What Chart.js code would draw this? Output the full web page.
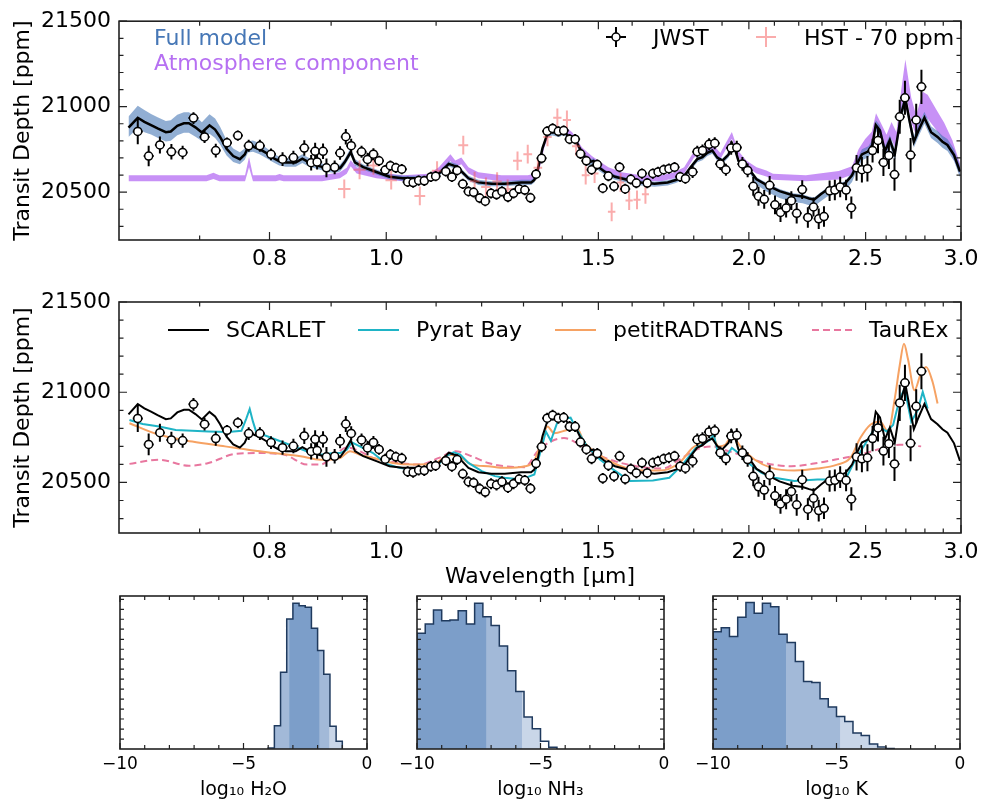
<!DOCTYPE html>
<html>
<head>
<meta charset="utf-8">
<script src="https://cdn.jsdelivr.net/npm/chart.js@4.4.1/dist/chart.umd.min.js"></script>
<style>
  body { margin: 0; background: #fff; width: 986px; height: 805px; position: relative; overflow: hidden; }
  canvas { position: absolute; }
</style>
</head>
<body>
<canvas id="topPanel" width="986" height="282" style="left:0;top:0"></canvas>
<canvas id="midPanel" width="986" height="320" style="left:0;top:280px"></canvas>
<canvas id="histH2O" width="327" height="220" style="left:80px;top:585px"></canvas>
<canvas id="histNH3" width="327" height="220" style="left:377px;top:585px"></canvas>
<canvas id="histK" width="327" height="220" style="left:673px;top:585px"></canvas>
<script>
Chart.defaults.font.family = "'DejaVu Sans', sans-serif";
Chart.defaults.font.size = 22;
Chart.defaults.color = '#000';
Chart.defaults.animation = false;

// ---------- spectrum data (wavelength in micron, depth in ppm) ----------
const jwstWave = [0.6219,0.6350,0.6488,0.6632,0.6776,0.6918,0.7066,0.7219,0.7376,0.7530,
  0.7688,0.7854,0.8023,0.8202,0.8374,0.8550,0.8663,0.8729,0.8762,0.8862,
  0.8920,0.9061,0.9155,0.9256,0.9352,0.9539,0.9648,0.9758,0.9863,0.9981,
  1.0079,1.0185,1.0301,1.0418,1.0527,1.0639,1.0754,1.0891,1.0990,1.1205,
  1.1337,1.1451,1.1575,1.1702,1.1817,1.1956,1.2083,1.2218,1.2346,1.2475,
  1.2619,1.2755,1.2893,1.3032,1.3173,1.3315,1.3456,1.3602,1.3744,1.3895,
  1.4038,1.4197,1.4348,1.4495,1.4660,1.4808,1.4968,1.5127,1.5290,1.5456,
  1.5620,1.5789,1.5960,1.6129,1.6304,1.6468,1.6646,1.6813,1.6995,1.7166,
  1.7351,1.7539,1.7715,1.7961,1.8121,1.8303,1.8536,1.8737,1.8937,1.9141,
  1.9334,1.9543,1.9754,1.9953,2.0168,2.0371,2.0595,2.0810,2.1023,2.1246,
  2.1476,2.1692,2.1914,2.2147,2.2387,2.2629,2.2857,2.3087,2.3337,2.3572,
  2.3813,2.4084,2.4327,2.4571,2.4823,2.5087,2.5334,2.5599,2.5866,2.6136,
  2.6419,2.6684,2.6952,2.7244,2.7538,2.7815];
const jwstDepth = [20855,20711,20776,20736,20732,20933,20823,20743,20789,20831,
  20771,20771,20721,20693,20702,20758,20672,20739,20677,20739,
  20642,20645,20729,20824,20772,20736,20691,20722,20683,20629,
  20655,20642,20634,20560,20556,20568,20566,20589,20593,20621,
  20589,20627,20548,20504,20499,20465,20447,20493,20486,20504,
  20471,20493,20519,20512,20467,20605,20698,20856,20873,20856,
  20860,20810,20810,20724,20683,20631,20661,20523,20594,20534,
  20646,20519,20575,20553,20609,20553,20609,20618,20631,20637,
  20646,20590,20579,20618,20737,20743,20780,20786,20665,20631,
  20758,20761,20665,20627,20534,20476,20458,20540,20426,20381,
  20407,20450,20376,20515,20352,20413,20344,20357,20508,20512,
  20530,20512,20409,20642,20631,20637,20743,20802,20674,20715,
  20603,20941,21052,20717,20922,21116];
const jwstErr = [75,60,50,45,40,35,35,40,30,30,
  35,35,35,40,40,45,45,50,45,45,
  55,40,40,45,40,35,40,35,30,30,
  30,30,30,30,30,30,30,30,30,30,
  30,30,30,30,30,30,30,30,30,30,
  30,30,30,30,30,30,30,30,30,30,
  30,30,30,30,30,30,30,30,30,30,
  30,30,30,30,30,30,30,30,30,30,
  30,30,30,35,35,35,35,35,35,35,
  40,40,40,40,55,55,55,55,55,55,
  55,55,60,55,60,55,60,60,60,60,
  60,60,65,75,75,75,70,75,80,80,
  95,100,100,100,95,100];

// HST points as plotted (already offset by -70 ppm)
const hstWave = [0.9229,0.9503,0.9758,1.0095,1.0663,1.1020,1.1586,1.1840,1.2099,1.2360,
  1.2612,1.2852,1.3106,1.3362,1.3610,1.3869,1.4125,1.4375,1.4641,1.4892,
  1.5386,1.5650,1.5909,1.6150,1.6412];
const hstDepth = [20519,20631,20656,20570,20478,20625,20775,20564,20530,20562,
  20519,20683,20722,20642,20823,20935,20922,20768,20599,20609,
  20385,20556,20451,20455,20487];
const hstErr = [55,55,55,55,55,55,55,55,55,55,55,55,55,55,55,55,55,55,55,55,55,55,55,55,55];
const hstHalfBin = 0.011;

// full model (SCARLET best fit) and spread of posterior samples
const modelWave = [0.6110,0.6219,0.6298,0.6379,0.6459,0.6562,0.6624,0.6707,0.6792,0.6857,
  0.6944,0.7030,0.7133,0.7210,0.7279,0.7370,0.7464,0.7559,0.7630,0.7678,
  0.7751,0.7849,0.7948,0.8049,0.8151,0.8253,0.8411,0.8518,0.8598,0.8734,
  0.8845,0.8957,0.9071,0.9157,0.9238,0.9343,0.9419,0.9570,0.9813,1.0062,
  1.0320,1.0582,1.0852,1.0990,1.1130,1.1269,1.1376,1.1449,1.1558,1.1702,
  1.1925,1.2230,1.2541,1.2942,1.3190,1.3272,1.3355,1.3481,1.3610,1.3739,
  1.3914,1.4046,1.4180,1.4360,1.4540,1.4725,1.4864,1.5005,1.5195,1.5485,
  1.5878,1.6281,1.6700,1.7124,1.7395,1.7673,1.7894,1.8121,1.8302,1.8475,
  1.8650,1.8827,1.9005,1.9239,1.9360,1.9481,1.9606,1.9792,2.0040,2.0295,
  2.0681,2.1206,2.1749,2.2165,2.2442,2.2655,2.2944,2.3236,2.3603,2.4053,
  2.4359,2.4590,2.4823,2.5134,2.5324,2.5488,2.5696,2.5939,2.6185,2.6433,
  2.6770,2.6973,2.7192,2.7414,2.7659,2.7974,2.8330,2.8685,2.8957,2.9232,
  2.9604,2.9941];
const modelDepth = [20877,20935,20911,20892,20873,20851,20855,20888,20903,20903,
  20879,20849,20891,20866,20823,20754,20711,20693,20720,20762,
  20767,20751,20730,20701,20681,20673,20673,20696,20680,20659,
  20648,20637,20634,20641,20676,20734,20674,20646,20618,20590,
  20581,20581,20581,20590,20627,20665,20655,20650,20618,20581,
  20557,20549,20549,20557,20557,20571,20627,20758,20842,20851,
  20842,20855,20823,20804,20730,20674,20683,20646,20618,20590,
  20571,20557,20549,20557,20571,20594,20646,20693,20705,20730,
  20743,20702,20683,20720,20786,20748,20683,20655,20627,20575,
  20543,20506,20482,20475,20463,20456,20487,20515,20530,20553,
  20599,20665,20721,20739,20776,20892,20860,20739,20804,20721,
  20963,21046,20916,20795,20860,20935,20851,20823,20795,20776,
  20717,20620];
const modelUp = [65,70,70,65,65,65,65,65,65,65,
  65,60,65,65,60,50,45,40,35,35,
  35,35,30,30,25,25,25,25,25,20,
  20,20,20,20,20,25,20,15,15,15,
  15,15,15,15,15,15,15,15,15,15,
  15,15,15,15,15,15,15,15,15,15,
  15,15,15,15,15,15,15,15,12,12,
  12,12,12,12,12,12,12,12,12,12,
  12,12,12,12,12,12,12,12,12,12,
  12,12,12,12,12,12,12,12,12,12,
  20,25,30,30,30,30,30,30,30,35,
  35,35,35,35,35,35,35,35,35,35,
  35,35];
const modelDn = [55,60,60,55,55,55,55,55,55,55,
  55,50,50,50,45,40,35,30,30,30,
  30,30,30,25,25,25,25,25,25,20,
  20,20,20,20,20,20,20,15,15,15,
  15,15,15,15,15,15,15,15,15,15,
  15,15,15,15,15,15,20,20,20,20,
  20,20,20,20,20,20,20,20,18,18,
  18,18,18,18,18,18,18,18,18,18,
  18,18,18,18,18,18,18,18,18,30,
  40,40,40,40,40,40,40,40,40,40,
  40,35,35,35,35,35,35,35,35,35,
  35,35,35,35,35,35,35,35,35,35,
  35,35];

// atmosphere-only component
const atmWave = [0.6110,0.7093,0.7187,0.7269,0.7635,0.7693,0.7751,0.8095,0.8156,0.8218,
  0.8845,0.9152,0.9273,0.9343,0.9450,0.9813,1.0320,1.0852,1.1058,1.1305,
  1.1412,1.1543,1.1702,1.1925,1.2463,1.3106,1.3272,1.3398,1.3525,1.3653,
  1.3739,1.3914,1.4046,1.4268,1.4540,1.4816,1.5005,1.5290,1.5680,1.6281,
  1.6910,1.7343,1.7673,1.8010,1.8362,1.8650,1.8937,1.9360,1.9606,1.9915,
  2.0295,2.0681,2.0944,2.2303,2.3751,2.4359,2.4665,2.4978,2.5296,2.5502,
  2.5777,2.6022,2.6269,2.6518,2.6770,2.6973,2.7279,2.7538,2.7884,2.8148,
  2.8599,2.9051,2.9510,2.9941];
const atmDepth = [20581,20581,20595,20581,20581,20676,20581,20581,20588,20581,
  20581,20599,20625,20669,20627,20599,20581,20590,20627,20702,
  20665,20683,20627,20599,20581,20581,20590,20646,20776,20860,
  20879,20851,20870,20832,20743,20693,20665,20627,20599,20581,
  20581,20599,20627,20721,20743,20767,20711,20832,20721,20665,
  20627,20609,20590,20581,20599,20627,20721,20776,20814,20916,
  20851,20786,20860,20795,21037,21186,20982,20888,21018,21000,
  20926,20851,20758,20637];
const atmHw = [18,18,18,18,18,30,18,18,18,18,
  18,18,18,18,18,18,18,18,18,20,
  20,20,18,18,18,18,18,18,18,18,
  18,18,18,18,18,18,18,18,18,18,
  18,18,18,18,18,18,18,20,18,18,
  18,18,18,18,25,25,30,35,40,45,
  45,50,50,55,70,90,70,60,70,70,
  60,55,45,30];

// other retrieval codes (bottom panel)
const pyratWave = [0.6121,0.6278,0.6479,0.6687,0.6901,0.7119,0.7394,0.7582,0.7654,0.7703,
  0.7751,0.7800,0.7974,0.8177,0.8385,0.8598,0.8817,0.9043,0.9157,0.9273,
  0.9361,0.9508,0.9752,1.0000,1.0254,1.0517,1.0784,1.0990,1.1199,1.1376,
  1.1520,1.1702,1.2003,1.2308,1.2541,1.2942,1.3272,1.3441,1.3569,1.3698,
  1.3869,1.4091,1.4224,1.4402,1.4678,1.5054,1.5436,1.5930,1.6646,1.7179,
  1.7619,1.8066,1.8526,1.8702,1.8879,1.9116,1.9360,1.9606,1.9979,2.0487,
  2.1008,2.1815,2.2801,2.3527,2.4130,2.4433,2.5049,2.5536,2.6022,2.6348,
  2.6684,2.6937,2.7279,2.7622,2.7884,2.8148];
const pyratDepth = [20846,20824,20810,20791,20786,20782,20779,20786,20855,20907,
  20837,20779,20755,20727,20700,20672,20654,20663,20663,20681,
  20722,20700,20663,20603,20581,20571,20571,20581,20645,20667,
  20654,20608,20563,20535,20526,20516,20544,20681,20782,20731,
  20834,20855,20859,20791,20700,20626,20571,20508,20511,20526,
  20599,20691,20731,20764,20645,20636,20691,20663,20608,20553,
  20526,20508,20516,20516,20535,20608,20727,20819,20782,20819,
  20965,21020,20837,20901,21002,20910];
const prtWave = [0.6121,0.6479,0.6901,0.7348,0.7678,0.8075,0.8489,0.8817,0.9157,0.9331,
  0.9508,0.9752,1.0127,1.0517,1.0990,1.1269,1.1483,1.1778,1.2151,1.2541,
  1.3032,1.3272,1.3481,1.3610,1.3783,1.4134,1.4402,1.4586,1.4957,1.5436,
  1.6030,1.6860,1.7507,1.7952,1.8302,1.8582,1.8879,1.9116,1.9360,1.9727,
  2.0230,2.0877,2.1815,2.2801,2.3678,2.4281,2.4744,2.5215,2.5696,2.6102,
  2.6433,2.6684,2.6901,2.7105,2.7451,2.7750,2.8064,2.8416,2.8685];
const prtDepth = [20828,20764,20727,20700,20681,20663,20645,20626,20636,20673,
  20654,20636,20608,20599,20608,20654,20645,20599,20590,20581,
  20590,20621,20746,20810,20773,20791,20801,20727,20663,20608,
  20571,20566,20608,20691,20727,20782,20700,20709,20755,20691,
  20626,20581,20566,20577,20599,20636,20746,20819,20837,20782,
  20965,21148,21268,21185,21011,21093,21140,21057,20938];
const taurexWave = [0.6121,0.6479,0.6857,0.7119,0.7488,0.7824,0.8229,0.8598,0.8817,0.9043,
  0.9273,0.9508,0.9752,1.0127,1.0649,1.1058,1.1412,1.1778,1.2151,1.2541,
  1.3032,1.3355,1.3698,1.4046,1.4402,1.4772,1.5339,1.6129,1.6963,1.7507,
  1.8066,1.8650,1.9239,1.9862,2.0615,2.1679,2.2801,2.3976,2.4744,2.5536,
  2.6684,2.7799];
const taurexDepth = [20603,20626,20593,20608,20658,20663,20654,20599,20599,20645,
  20694,20673,20636,20614,20599,20636,20673,20645,20608,20590,
  20585,20673,20727,20746,20718,20673,20626,20590,20577,20626,
  20681,20700,20673,20645,20608,20590,20608,20636,20654,20681,
  20709,20700];

const waveTicks = [0.8, 1.0, 1.5, 2.0, 2.5, 3.0];
const waveMinor = [0.7, 0.9, 1.1, 1.2, 1.3, 1.4, 1.6, 1.7, 1.8, 1.9, 2.1, 2.2, 2.3, 2.4, 2.6, 2.7, 2.8, 2.9];
const depthTicks = [20500, 21000, 21500];
const depthMinor = [20300, 20400, 20600, 20700, 20800, 20900, 21100, 21200, 21300, 21400];

// ---------- posterior histograms (heights as fraction of panel height) ----------
const h2oEdges = [-4,-3.75,-3.5,-3.25,-3,-2.75,-2.5,-2.25,-2,-1.75,-1.5,-1.25,-1];
const h2oHeights = [0.007,0.152,0.502,0.85,0.952,0.937,0.926,0.789,0.643,0.489,0.148,0.05];
const h2oBands = [[-3.15,-1.92],[-3.73,-1.52],[-4,-1]];
const nh3Edges = [-10,-9.667,-9.333,-9,-8.667,-8.333,-8,-7.667,-7.333,-7,-6.667,-6.333,-6,-5.667,-5.333,-5,-4.667,-4.333];
const nh3Heights = [0.757,0.817,0.909,0.839,0.843,0.904,0.817,0.952,0.865,0.807,0.674,0.511,0.376,0.209,0.133,0.05,0.011];
const nh3Bands = [[-10,-7.19],[-10,-5.75],[-10,-5.0]];
const kEdges = [-10,-9.667,-9.333,-9,-8.667,-8.333,-8,-7.667,-7.333,-7,-6.667,-6.333,-6,-5.667,-5.333,-5,-4.667,-4.333,-4,-3.667,-3.333,-3,-2.667];
const kHeights = [0.767,0.793,0.735,0.861,0.957,0.887,0.952,0.930,0.75,0.696,0.572,0.441,0.435,0.328,0.274,0.213,0.180,0.104,0.089,0.033,0.013,0.004];
const kBands = [[-10,-7.04],[-10,-4.85],[-10,-3.33]];
const histTicks = [-10, -5, 0];
const histMinor = [-9, -8, -7, -6, -4, -3, -2, -1];
const histYMinor = [0.065,0.13,0.196,0.261,0.326,0.391,0.457,0.522,0.587,0.652,0.717,0.783,0.848,0.913,0.978];

// ---------- helpers ----------
const xy = (xs, ys) => xs.map((x, i) => ({ x: x, y: ys[i] }));

function steps(edges, heights, lo, hi) {
  const pts = [];
  for (let i = 0; i < heights.length; i++) {
    const a = Math.max(edges[i], lo), b = Math.min(edges[i + 1], hi);
    if (b <= a) continue;
    if (!pts.length) pts.push({ x: a, y: 0 });
    pts.push({ x: a, y: heights[i] });
    pts.push({ x: b, y: heights[i] });
  }
  pts.push({ x: pts[pts.length - 1].x, y: 0 });
  return pts;
}

// inward ticks on all four sides plus the axes frame
function framePlugin(xMaj, xMin, yMaj, yMin, lMaj, lMin) {
  return {
    id: 'frame',
    afterDatasetsDraw(chart) {
      const { ctx, chartArea: a } = chart;
      const sx = chart.scales.x, sy = chart.scales.y;
      ctx.save();
      ctx.strokeStyle = '#222';
      ctx.lineWidth = 1.2;
      ctx.beginPath();
      const tx = (vals, len) => vals.forEach(v => {
        const p = sx.getPixelForValue(v);
        ctx.moveTo(p, a.bottom); ctx.lineTo(p, a.bottom - len);
        ctx.moveTo(p, a.top); ctx.lineTo(p, a.top + len);
      });
      const ty = (vals, len) => vals.forEach(v => {
        const p = sy.getPixelForValue(v);
        ctx.moveTo(a.left, p); ctx.lineTo(a.left + len, p);
        ctx.moveTo(a.right, p); ctx.lineTo(a.right - len, p);
      });
      tx(xMaj, lMaj); tx(xMin, lMin); ty(yMaj, lMaj); ty(yMin, lMin);
      ctx.stroke();
      ctx.lineWidth = 1.6;
      ctx.strokeRect(a.left, a.top, a.right - a.left, a.bottom - a.top);
      ctx.restore();
    }
  };
}

const errorBars = {
  id: 'errorBars',
  beforeDatasetDraw(chart, args) {
    const ds = chart.data.datasets[args.index];
    if (!ds.errY) return;
    const { ctx, chartArea: a } = chart;
    const sx = chart.scales.x, sy = chart.scales.y;
    ctx.save();
    ctx.beginPath();
    ctx.rect(a.left, a.top, a.right - a.left, a.bottom - a.top);
    ctx.clip();
    ctx.strokeStyle = ds.errColor;
    ctx.lineWidth = ds.errWidth;
    ctx.beginPath();
    ds.data.forEach((p, i) => {
      const px = sx.getPixelForValue(p.x), py = sy.getPixelForValue(p.y);
      ctx.moveTo(px, sy.getPixelForValue(p.y - ds.errY[i]));
      ctx.lineTo(px, sy.getPixelForValue(p.y + ds.errY[i]));
      if (ds.errX) {
        ctx.moveTo(sx.getPixelForValue(p.x - ds.errX), py);
        ctx.lineTo(sx.getPixelForValue(p.x + ds.errX), py);
      } else {
        ctx.moveTo(px - ds.capPx, py);
        ctx.lineTo(px + ds.capPx, py);
      }
    });
    ctx.stroke();
    ctx.restore();
  }
};

const JWST_COLOR = '#000';
const HST_COLOR = 'rgba(245,90,90,0.5)';
const BLUE = '#4677b6';
const PURPLE = '#b670f2';

function jwstSet() {
  return {
    data: xy(jwstWave, jwstDepth), showLine: false,
    errY: jwstErr, capPx: 5, errColor: JWST_COLOR, errWidth: 2,
    pointRadius: 4, pointBackgroundColor: '#fff', pointBorderColor: '#000', pointBorderWidth: 1.5
  };
}
function lineSet(xs, ys, color, width, extra) {
  return Object.assign({
    data: xy(xs, ys), showLine: true, borderColor: color, borderWidth: width,
    pointRadius: 0, fill: false, tension: 0
  }, extra || {});
}

function spectrumOptions(xHeight, showXTitle) {
  return {
    responsive: false,
    events: [],
    layout: { padding: { left: 0, right: 25, top: 0, bottom: 0 } },
    plugins: { legend: { display: false }, tooltip: { enabled: false } },
    scales: {
      x: {
        type: 'logarithmic', min: 0.611, max: 3.0,
        grid: { display: false, drawTicks: false }, border: { display: false },
        afterBuildTicks: s => { s.ticks = waveTicks.map(v => ({ value: v })); },
        afterFit: s => { s.height = xHeight; },
        ticks: { autoSkip: false, maxRotation: 0, padding: 6, callback: v => Number(v).toFixed(1) },
        title: { display: showXTitle, text: 'Wavelength [\u03bcm]', padding: { top: 0, bottom: 10 } }
      },
      y: {
        min: 20220, max: 21500,
        grid: { display: false, drawTicks: false }, border: { display: false },
        afterBuildTicks: s => { s.ticks = depthTicks.map(v => ({ value: v })); },
        afterFit: s => { s.width = 119; },
        ticks: { padding: 8, callback: v => String(v) },
        title: { display: true, text: 'Transit Depth [ppm]', padding: { top: 10, bottom: 0 } }
      }
    }
  };
}

// ---------- top panel ----------
const topOpts = spectrumOptions(42, false);
topOpts.layout.padding.top = 10;
new Chart(document.getElementById('topPanel'), {
  type: 'line',
  data: {
    datasets: [
      jwstSet(),
      {
        data: xy(hstWave, hstDepth), showLine: false, pointRadius: 0,
        errY: hstErr, errX: hstHalfBin, errColor: HST_COLOR, errWidth: 2
      },
      lineSet(modelWave, modelDepth, '#000', 2.5),
      lineSet(modelWave, modelDepth.map((v, i) => v + modelUp[i]), 'transparent', 1,
        { fill: '+1', backgroundColor: 'rgba(66,116,180,0.58)' }),
      lineSet(modelWave, modelDepth.map((v, i) => v - modelDn[i]), 'transparent', 1),
      lineSet(atmWave, atmDepth.map((v, i) => v + atmHw[i]), 'transparent', 1,
        { fill: '+1', backgroundColor: 'rgba(178,102,242,0.72)' }),
      lineSet(atmWave, atmDepth.map((v, i) => v - atmHw[i]), 'transparent', 1)
    ]
  },
  options: topOpts,
  plugins: [errorBars, framePlugin(waveTicks, waveMinor, depthTicks, depthMinor, 8, 4.5), {
    id: 'topLegend',
    afterDraw(chart) {
      const ctx = chart.ctx;
      ctx.save();
      ctx.font = "22px 'DejaVu Sans'";
      ctx.fillStyle = BLUE;
      ctx.fillText('Full model', 154, 45);
      ctx.fillStyle = PURPLE;
      ctx.fillText('Atmosphere component', 154, 70);
      ctx.fillStyle = '#000';
      ctx.fillText('JWST', 653, 45);
      ctx.fillText('HST - 70 ppm', 804, 45);
      ctx.lineWidth = 2;
      ctx.strokeStyle = JWST_COLOR;
      ctx.beginPath();
      ctx.moveTo(606, 37); ctx.lineTo(626, 37);
      ctx.moveTo(616, 27); ctx.lineTo(616, 47);
      ctx.stroke();
      ctx.beginPath();
      ctx.arc(616, 37, 4, 0, Math.PI * 2);
      ctx.fillStyle = '#fff'; ctx.fill();
      ctx.lineWidth = 1.5; ctx.stroke();
      ctx.strokeStyle = HST_COLOR;
      ctx.lineWidth = 2;
      ctx.beginPath();
      ctx.moveTo(756, 37); ctx.lineTo(776, 37);
      ctx.moveTo(766, 27); ctx.lineTo(766, 47);
      ctx.stroke();
      ctx.restore();
    }
  }]
});

// ---------- middle panel ----------
const midOpts = spectrumOptions(67, true);
midOpts.layout.padding.top = 22;
new Chart(document.getElementById('midPanel'), {
  type: 'line',
  data: {
    datasets: [
      jwstSet(),
      lineSet(modelWave, modelDepth, '#000', 2),
      lineSet(pyratWave, pyratDepth, '#1fb4c6', 2),
      lineSet(prtWave, prtDepth, '#f6a263', 2, { cubicInterpolationMode: 'monotone' }),
      lineSet(taurexWave, taurexDepth, '#e8779f', 2, { borderDash: [7, 4], cubicInterpolationMode: 'monotone' })
    ]
  },
  options: midOpts,
  plugins: [errorBars, framePlugin(waveTicks, waveMinor, depthTicks, depthMinor, 8, 4.5), {
    id: 'midLegend',
    afterDraw(chart) {
      const ctx = chart.ctx;
      const items = [
        ['SCARLET', '#000', [], 168, 226],
        ['Pyrat Bay', '#1fb4c6', [], 358, 416],
        ['petitRADTRANS', '#f6a263', [], 555, 613],
        ['TauREx', '#e8779f', [7, 4], 812, 869]
      ];
      ctx.save();
      ctx.font = "22px 'DejaVu Sans'";
      items.forEach(([label, color, dash, hx, tx]) => {
        ctx.strokeStyle = color;
        ctx.lineWidth = 2;
        ctx.setLineDash(dash);
        ctx.beginPath();
        ctx.moveTo(hx, 50); ctx.lineTo(hx + 41, 50);
        ctx.stroke();
        ctx.setLineDash([]);
        ctx.fillStyle = '#000';
        ctx.fillText(label, tx, 57);
      });
      ctx.restore();
    }
  }]
});

// ---------- histograms ----------
const DARK = '#7c9ec9', MID = '#a2b9d8', LIGHT = '#c9d6e8', EDGE = '#1f3a5e';

function histChart(id, edges, heights, bands, title) {
  new Chart(document.getElementById(id), {
    type: 'line',
    data: {
      datasets: [
        { data: steps(edges, heights, edges[0], edges[edges.length - 1]), borderColor: EDGE, borderWidth: 1.5, pointRadius: 0, fill: false, tension: 0 },
        { data: steps(edges, heights, bands[0][0], bands[0][1]), borderColor: 'transparent', backgroundColor: DARK, fill: 'origin', pointRadius: 0 },
        { data: steps(edges, heights, bands[1][0], bands[1][1]), borderColor: 'transparent', backgroundColor: MID, fill: 'origin', pointRadius: 0 },
        { data: steps(edges, heights, bands[2][0], bands[2][1]), borderColor: 'transparent', backgroundColor: LIGHT, fill: 'origin', pointRadius: 0 }
      ]
    },
    options: {
      responsive: false,
      events: [],
      layout: { padding: { left: 0, right: 40, top: 11, bottom: 0 } },
      plugins: { legend: { display: false }, tooltip: { enabled: false } },
      scales: {
        x: {
          type: 'linear', min: -10, max: 0,
          grid: { display: false, drawTicks: false }, border: { display: false },
          afterBuildTicks: s => { s.ticks = histTicks.map(v => ({ value: v })); },
          afterFit: s => { s.height = 56; },
          ticks: { autoSkip: false, maxRotation: 0, padding: 5, font: { size: 17 },
            callback: v => (v < 0 ? '\u2212' + Math.abs(v) : String(v)) },
          title: { display: true, text: title, font: { size: 19 }, padding: { top: 0, bottom: 4 } }
        },
        y: {
          min: 0, max: 1,
          grid: { display: false, drawTicks: false }, border: { display: false },
          ticks: { display: false },
          afterFit: s => { s.width = 40; }
        }
      }
    },
    plugins: [framePlugin(histTicks, histMinor, [], histYMinor, 6, 4)]
  });
}

histChart('histH2O', h2oEdges, h2oHeights, h2oBands, 'log\u2081\u2080 H\u2082O');
histChart('histNH3', nh3Edges, nh3Heights, nh3Bands, 'log\u2081\u2080 NH\u2083');
histChart('histK', kEdges, kHeights, kBands, 'log\u2081\u2080 K');
</script>
</body>
</html>
